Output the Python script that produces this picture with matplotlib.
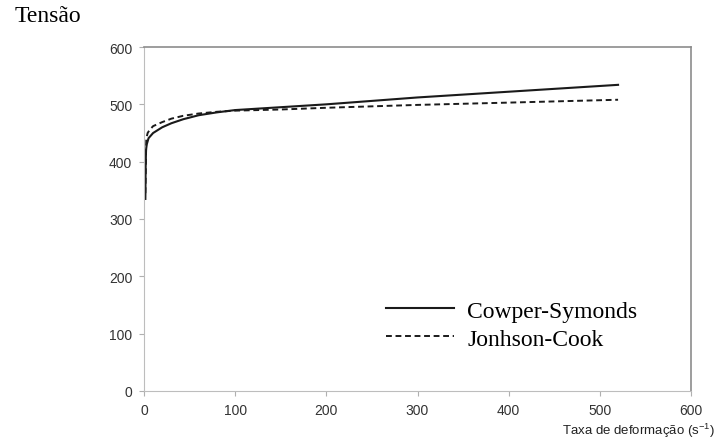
import matplotlib
matplotlib.use("Agg")
import matplotlib.pyplot as plt

# Data
rate_cs = [1.5, 1.8, 2.2, 3, 5, 10, 20, 30, 43, 60, 80, 100, 150, 200, 250, 300, 400, 520]
stress_cs = [335, 390, 420, 430, 441, 450, 460, 467, 474, 481, 486, 490, 495, 500, 506, 512, 522, 534]

rate_jc = [1.5, 2.5, 4, 6, 10, 20, 30, 43, 60, 80, 100, 150, 200, 300, 400, 520]
stress_jc = [345, 440, 450, 455, 462, 469, 475, 480, 484, 487, 489, 491, 494, 499, 503, 508]

x_ticks = [0, 100, 200, 300, 400, 500, 600]
y_ticks = [0, 100, 200, 300, 400, 500, 600]

plt.rcParams['mathtext.fontset'] = 'custom'
plt.rcParams['mathtext.rm'] = 'Liberation Sans'
plt.rcParams['mathtext.it'] = 'Liberation Sans'

W, H = 718, 439
fig = plt.figure(figsize=(W / 100, H / 100), dpi=100)
ax = fig.add_axes([144 / W, 1 - 392 / H, (691 - 144) / W, (392 - 48) / H])

ax.plot(rate_cs, stress_cs, color='#1a1a1a', lw=1.5, label='Cowper-Symonds',
        solid_joinstyle='round')
ax.plot(rate_jc, stress_jc, color='#1a1a1a', lw=1.4, dashes=(3.0, 1.9), label='Jonhson-Cook')

ax.set_xlim(0, 600)
ax.set_ylim(0, 600)
ax.set_xticks(x_ticks)
ax.set_yticks(y_ticks)

tick_font = dict(family='Liberation Sans', size=10)
ax.set_xticklabels([str(v) for v in x_ticks], fontdict=tick_font, color='#333333')
ax.set_yticklabels([str(v) for v in y_ticks], fontdict=tick_font, color='#333333')
ax.tick_params(axis='both', direction='out', length=3.5, width=0.8, color='#b0b0b0')
ax.tick_params(axis='x', pad=5)
ax.tick_params(axis='y', pad=5)

for s in ['left', 'bottom']:
    ax.spines[s].set_color('#bdbdbd')
    ax.spines[s].set_linewidth(0.8)
for s in ['top', 'right']:
    ax.spines[s].set_color('#8c8c8c')
    ax.spines[s].set_linewidth(1.2)

leg = ax.legend(loc='upper left', bbox_to_anchor=(386 / W, 1 - 301 / H),
                bbox_transform=fig.transFigure, frameon=False,
                prop=dict(family='Liberation Serif', size=17),
                handlelength=2.9, handletextpad=0.55, labelspacing=0.28,
                borderpad=0, borderaxespad=0)

fig.text(15 / W, 1 - 16 / H, 'Tensão', family='Liberation Serif', size=17,
         va='center', ha='left', color='black')
fig.text(715 / W, 1 - 431 / H, 'Taxa de deformação (s$^{-1}$)',
         family='Liberation Sans', size=9.5, va='center', ha='right', color='#222222')

fig.savefig('out.png', dpi=100)
